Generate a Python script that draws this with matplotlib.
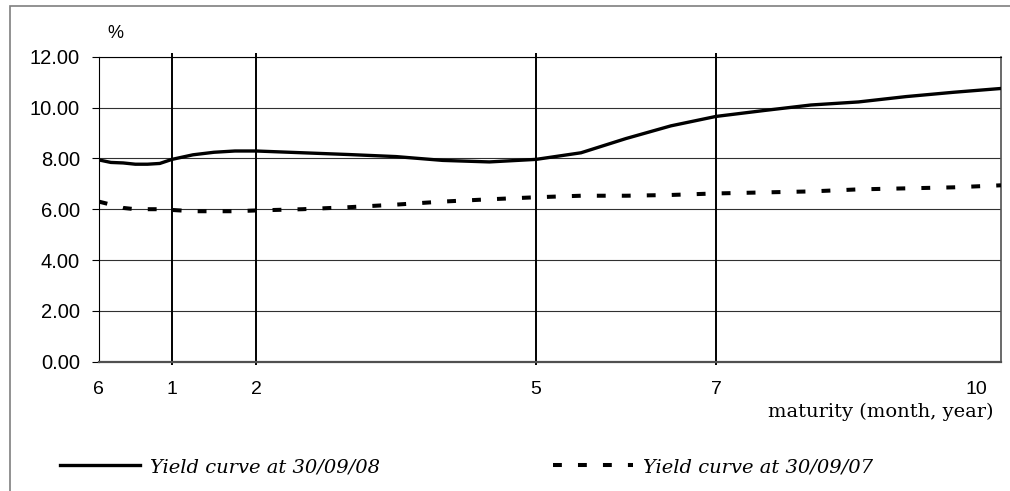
import numpy as np
import matplotlib
matplotlib.use("Agg")
import matplotlib.pyplot as plt
from matplotlib.patches import Rectangle
from matplotlib.transforms import ScaledTranslation

# ---------------- data ----------------
maturity_years = [0.5, 0.583, 0.667, 0.75, 0.833, 0.917, 1.0, 1.25, 1.5, 1.75, 2.0,
                  2.5, 3.0, 3.5, 4.0, 4.5, 5.0, 5.5, 6.0, 6.5, 7.0, 7.5, 8.0, 8.5,
                  9.0, 9.5, 10.0]
yield_2008 = [7.94, 7.84, 7.82, 7.77, 7.77, 7.80, 7.96, 8.14, 8.24, 8.29, 8.29,
              8.22, 8.15, 8.07, 7.92, 7.86, 7.96, 8.22, 8.78, 9.28, 9.65, 9.88,
              10.10, 10.22, 10.43, 10.60, 10.75]
yield_2007 = [6.30, 6.18, 6.05, 6.00, 6.00, 6.00, 5.97, 5.92, 5.92, 5.92, 5.95,
              6.00, 6.08, 6.18, 6.30, 6.39, 6.47, 6.53, 6.53, 6.56, 6.62, 6.66,
              6.70, 6.78, 6.82, 6.86, 6.94]

tick_years = [0.5, 1, 2, 5, 7, 10]
tick_labels = ["6", "1", "2", "5", "7", "10"]
marker_years = [1, 2, 5, 7]          # vertical reference lines
y_ticks = [0, 2, 4, 6, 8, 10, 12]

series_labels = ["Yield curve at 30/09/08", "Yield curve at 30/09/07"]
x_title = "maturity (month, year)"
y_title = "%"

# axis scale anchors (maturity -> fraction of axis width)
axis_years = np.array([0.5, 1.0, 2.0, 5.0, 7.0, 10.0])
axis_frac = np.array([0.0, 0.0812, 0.1743, 0.4847, 0.6841, 1.0])


def fwd(x):
    return np.interp(x, axis_years, axis_frac)


def inv(u):
    return np.interp(u, axis_frac, axis_years)


# ---------------- figure ----------------
W, H = 1010, 491
fig = plt.figure(figsize=(W / 100, H / 100), dpi=100)
fig.patch.set_facecolor("white")

ax = fig.add_axes([98.7 / W, 1 - 361.7 / H, (1001 - 98.7) / W, (361.7 - 56.7) / H])
ax.set_xscale("function", functions=(fwd, inv))
ax.set_xlim(0.5, 10)
ax.set_ylim(0, 12)

# gridlines
ax.set_yticks(y_ticks)
ax.set_yticklabels([f"{v:.2f}" for v in y_ticks])
ax.yaxis.grid(True, color="#303030", lw=0.8)
ax.set_axisbelow(True)

# vertical reference lines
ax.vlines(marker_years, -0.12, 12.13, colors="black", lw=1.4, clip_on=False, zorder=2)

# series
l1, = ax.plot(maturity_years, yield_2008, color="black", lw=2.4,
              solid_joinstyle="round", zorder=4, label=series_labels[0])
l2, = ax.plot(maturity_years, yield_2007, color="black", lw=2.9,
              dashes=(2.2, 4.0), dash_capstyle="butt", zorder=4, label=series_labels[1])

# spines
for s in ["left", "top"]:
    ax.spines[s].set_color("black")
    ax.spines[s].set_linewidth(0.8)
ax.spines["bottom"].set_color("#505050")
ax.spines["bottom"].set_linewidth(1.6)
ax.spines["right"].set_color("#505050")
ax.spines["right"].set_linewidth(1.2)

sans = ["Liberation Sans", "DejaVu Sans"]
serif = ["DejaVu Serif"]

ax.tick_params(axis="y", direction="out", length=5, width=0.8, pad=8.5,
               labelsize=14.5, colors="black")
for t in ax.get_yticklabels():
    t.set_family(sans)

ax.set_xticks(tick_years)
ax.set_xticklabels(tick_labels)
ax.xaxis.set_minor_locator(matplotlib.ticker.NullLocator())
ax.tick_params(axis="x", length=0, pad=14, labelsize=14)
for t in ax.get_xticklabels():
    t.set_family(sans)
last = ax.get_xticklabels()[-1]
last.set_transform(last.get_transform() + ScaledTranslation(-24.5 / 100, 0, fig.dpi_scale_trans))

# titles
fig.text(115 / W, 1 - 33 / H, y_title, ha="center", va="center",
         fontsize=13, family=sans)
fig.text(993 / W, 1 - 412 / H, x_title, ha="right", va="center",
         fontsize=14, family=serif)

# legends (two entries placed separately)
leg_kw = dict(frameon=False, borderpad=0, borderaxespad=0,
              handlelength=57.6 / 14, handletextpad=0.5,
              prop={"family": serif, "style": "italic", "size": 14})
lg1 = fig.legend([l1], [series_labels[0]], loc="center left",
                 bbox_to_anchor=(60 / W, 1 - 467 / H), **leg_kw)
lg2 = fig.legend([l2], [series_labels[1]], loc="center left",
                 bbox_to_anchor=(553 / W, 1 - 467 / H), **leg_kw)

# outer frame (only top and left visible)
fig.patches.append(Rectangle((10 / W, -0.1), 1.2, 1 - 5.5 / H + 0.1,
                             transform=fig.transFigure, fill=False,
                             edgecolor="#7f7f7f", lw=1.2))

fig.savefig("out.png", dpi=100, facecolor="white")
